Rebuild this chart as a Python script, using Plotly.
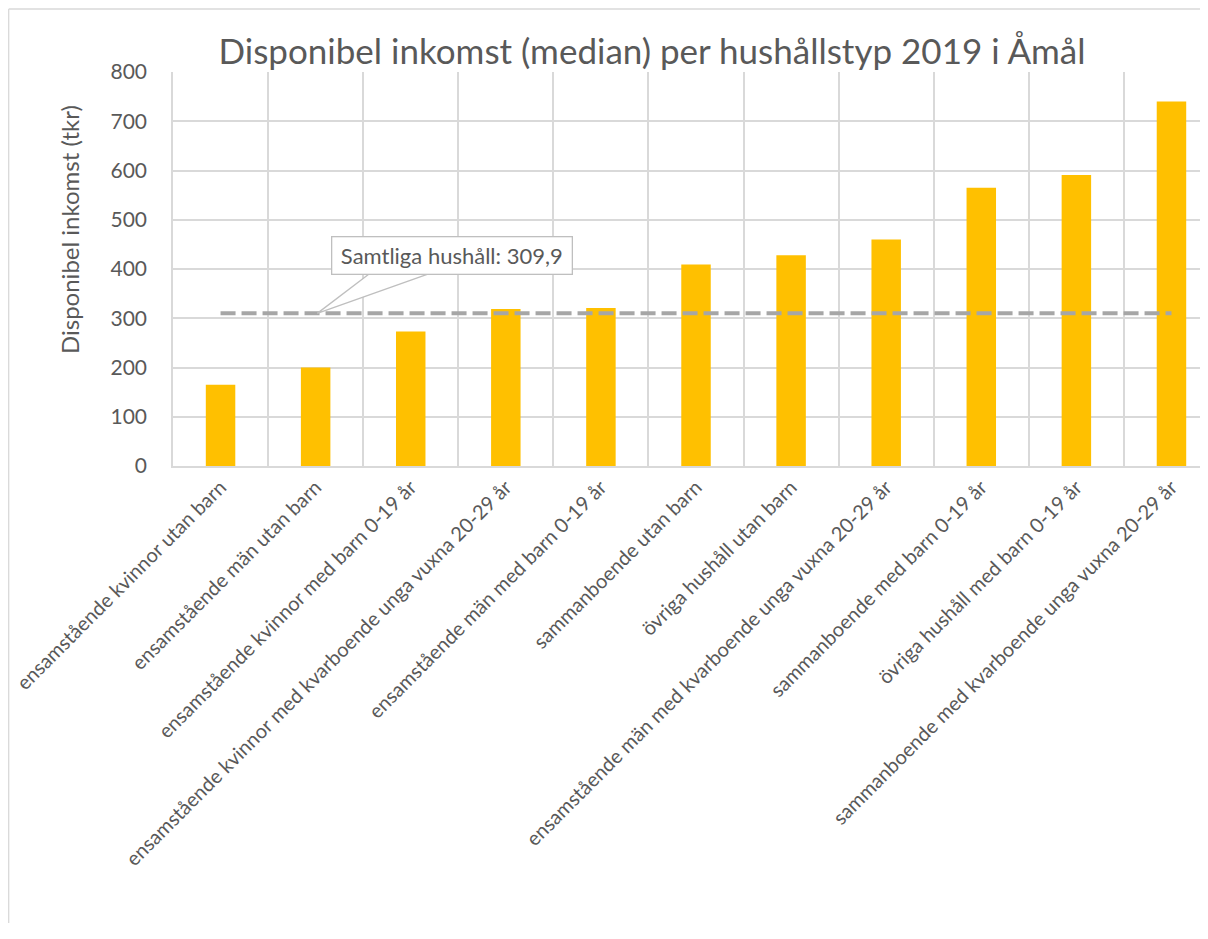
import plotly.graph_objects as go

categories = [
    "ensamstående kvinnor utan barn",
    "ensamstående män utan barn",
    "ensamstående kvinnor med barn 0-19 år",
    "ensamstående kvinnor med kvarboende unga vuxna 20-29 år",
    "ensamstående män med barn 0-19 år",
    "sammanboende utan barn",
    "övriga hushåll utan barn",
    "ensamstående män med kvarboende unga vuxna 20-29 år",
    "sammanboende med barn 0-19 år",
    "övriga hushåll med barn 0-19 år",
    "sammanboende med kvarboende unga vuxna 20-29 år",
]
values = [165, 200, 273, 319, 321, 409, 428, 460, 565, 591, 740]
total_value = 309.9
total_label = "Samtliga hushåll: 309,9"
title_text = "Disponibel inkomst (median) per hushållstyp 2019 i Åmål"
y_title = "Disponibel inkomst (tkr)"
y_ticks = [0, 100, 200, 300, 400, 500, 600, 700, 800]

FONT = "Lato, Calibri, sans-serif"
TXT = "#595959"
GRID = "#D9D9D9"

W, H = 1192, 915
L, T = 165, 64
PLOT_H = 394
B = H - T - PLOT_H

fig = go.Figure()
fig.add_trace(go.Bar(
    x=categories, y=values, width=0.31,
    marker=dict(color="#FFC000", line=dict(width=0)),
    showlegend=False, hoverinfo="x+y",
))
fig.add_trace(go.Scatter(
    x=categories, y=[total_value] * len(categories), mode="lines",
    line=dict(color="#A6A6A6", width=4, dash="15px,6px"),
    showlegend=False, hoverinfo="y",
))

# callout annotation
label_x, label_y = 2.435, 427.7
tip_x = 1.017
base_y = 390.5
fig.add_shape(type="path",
              path=f"M {label_x-0.87},{base_y} L {tip_x},{total_value} L {label_x-0.24},{base_y} Z",
              xref="x", yref="y", line=dict(color="#BFBFBF", width=1.3),
              fillcolor="white", layer="above")
fig.add_annotation(x=label_x, y=label_y, xref="x", yref="y", text=total_label,
                   showarrow=False, font=dict(family=FONT, size=22, color=TXT),
                   bgcolor="white", bordercolor="#BFBFBF", borderwidth=1.3,
                   borderpad=5, width=229, height=26)

# y axis title (placed like the original, above plot centre)
fig.add_annotation(x=(61 - L) / (W - L), y=(T + PLOT_H - 222) / PLOT_H,
                   xref="paper", yref="paper", text=y_title, textangle=-90,
                   showarrow=False, xanchor="center", yanchor="middle",
                   font=dict(family=FONT, size=24, color=TXT))

# outer chart border (left and top edges visible)
bx = (0.7 - L) / (W - L)
by = (T + PLOT_H - 1) / PLOT_H
fig.add_shape(type="line", xref="paper", yref="paper", x0=bx, x1=bx, y0=-3, y1=by,
              line=dict(color=GRID, width=1.3), layer="below")
fig.add_shape(type="line", xref="paper", yref="paper", x0=bx, x1=1.5, y0=by, y1=by,
              line=dict(color=GRID, width=1.3), layer="below")

fig.update_layout(
    width=W, height=H,
    margin=dict(l=L, r=0, t=T, b=B),
    paper_bgcolor="white", plot_bgcolor="white",
    font=dict(family=FONT, color=TXT),
    title=dict(text=title_text, x=644 / W, xref="container", xanchor="center",
               y=1 - 44 / H, yref="container", yanchor="middle",
               font=dict(family=FONT, size=35, color=TXT)),
)
fig.update_xaxes(
    type="category", range=[-0.5, 10.30], tickson="boundaries",
    showgrid=True, gridcolor=GRID, gridwidth=1.5,
    showline=True, linecolor=GRID, linewidth=1.5,
    tickangle=-45, tickfont=dict(family=FONT, size=20, color=TXT),
    ticks="", zeroline=False,
)
fig.update_yaxes(
    range=[0, 800], tickvals=y_ticks, showgrid=True, gridcolor=GRID, gridwidth=1.5,
    zeroline=False, showline=True, linecolor=GRID, linewidth=1.5,
    ticks="outside", ticklen=20, tickcolor="rgba(0,0,0,0)",
    tickfont=dict(family=FONT, size=21, color=TXT),
)

fig.write_html("out.html")
